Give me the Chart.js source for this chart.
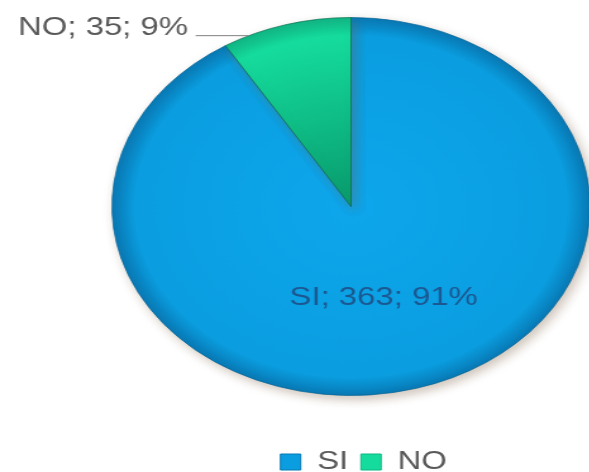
<!DOCTYPE html>
<html>
<head>
<meta charset="utf-8">
<script src="https://cdn.jsdelivr.net/npm/chart.js@4.4.9/dist/chart.umd.min.js"></script>
<style>
  html, body { margin: 0; padding: 0; background: #fff; }
  #wrap { width: 589px; height: 472px; overflow: hidden; position: relative; }
  /* the reference pie is an ellipse: draw a round pie and stretch it sideways */
  #pie { display: block; transform: scaleX(1.265); transform-origin: 0 0; }
</style>
</head>
<body>
<div id="wrap"><canvas id="pie" width="480" height="472"></canvas></div>
<script>
/* --- data --- */
const categories = ['SI', 'NO'];
const counts     = [363, 35];
const percents   = [91, 9];

// [centre, body, rim] colour per slice
const sliceShades = [
  ['#0ea6ec', '#0a9ee0', '#0878b4'],
  ['#089a6c', '#15dc9d', '#0fb584']
];

/* radial shading per slice, built from the chart area */
function shade(ctx) {
  const [inner, outer, rim] = sliceShades[ctx.dataIndex] || sliceShades[0];
  const a = ctx.chart.chartArea;
  if (!a) return outer;
  const cx = (a.left + a.right) / 2, cy = (a.top + a.bottom) / 2;
  const r = Math.min(a.right - a.left, a.bottom - a.top) / 2;
  const g = ctx.chart.ctx.createRadialGradient(cx, cy, 0, cx, cy, r);
  g.addColorStop(0, inner);
  g.addColorStop(0.9, outer);
  g.addColorStop(1, rim);
  return g;
}

/* soft drop shadow under the pie */
const shadowPlugin = {
  id: 'shadow',
  beforeDatasetsDraw(chart) {
    const c = chart.ctx;
    c.save();
    c.shadowColor = 'rgba(120,90,60,0.35)';
    c.shadowBlur = 10;
    c.shadowOffsetX = 3;
    c.shadowOffsetY = 4;
  },
  afterDatasetsDraw(chart) { chart.ctx.restore(); }
};

/* push the legend down to the bottom of the picture */
const legendNudge = {
  id: 'legendNudge',
  afterLayout(chart) {
    const lg = chart.legend;
    if (!lg) return;
    lg.top += 41; lg.bottom += 41;
    lg.left += 10; lg.right += 10;
  }
};

/* "cat; n; p%" labels: SI inside, NO outside with a leader line */
const labelPlugin = {
  id: 'sliceLabels',
  afterDatasetsDraw(chart) {
    const c = chart.ctx;
    const arcs = chart.getDatasetMeta(0).data;
    c.save();
    c.font = '26px "Liberation Sans", Arial, sans-serif';
    c.textBaseline = 'middle';

    // SI – centred at the slice's mid point
    const si = arcs[0].tooltipPosition();
    c.fillStyle = 'rgba(30,75,130,0.85)';
    c.textAlign = 'center';
    c.fillText(`${categories[0]}; ${counts[0]}; ${percents[0]}%`, si.x, si.y);

    // NO – outside, top left
    const no = arcs[1].getProps(['x', 'y', 'startAngle', 'endAngle', 'outerRadius'], true);
    const ang = no.startAngle + (no.endAngle - no.startAngle) * 0.2;
    const ex = no.x + Math.cos(ang) * no.outerRadius;
    const ey = no.y + Math.sin(ang) * no.outerRadius;
    c.strokeStyle = '#7f7f7f';
    c.lineWidth = 1;
    c.beginPath();
    c.moveTo(ex - 42, ey);
    c.lineTo(ex, ey);
    c.stroke();
    c.fillStyle = '#595959';
    c.textAlign = 'right';
    c.fillText(`${categories[1]}; ${counts[1]}; ${percents[1]}%`, ex - 48, ey - 8);
    c.restore();
  }
};

new Chart(document.getElementById('pie'), {
  type: 'pie',
  data: {
    labels: categories,
    datasets: [{
      data: counts,
      backgroundColor: shade,
      borderColor: ['rgba(6,100,150,0.7)', 'rgba(5,110,80,0.7)'],
      borderWidth: 1
    }]
  },
  options: {
    responsive: false,
    devicePixelRatio: 1,
    animation: false,
    layout: { padding: { left: 88, right: 13, top: 15, bottom: 28 } },
    plugins: {
      tooltip: { enabled: false },
      legend: {
        position: 'bottom',
        labels: {
          color: '#595959',
          font: { family: '"Liberation Sans", Arial, sans-serif', size: 26 },
          boxWidth: 16,
          boxHeight: 16,
          padding: 10,
          generateLabels(chart) {
            return categories.map((t, i) => ({
              text: t,
              fillStyle: sliceShades[i][1],
              strokeStyle: sliceShades[i][2],
              lineWidth: 1,
              fontColor: '#595959',
              index: i
            }));
          }
        }
      }
    }
  },
  plugins: [shadowPlugin, labelPlugin, legendNudge]
});
</script>
</body>
</html>
